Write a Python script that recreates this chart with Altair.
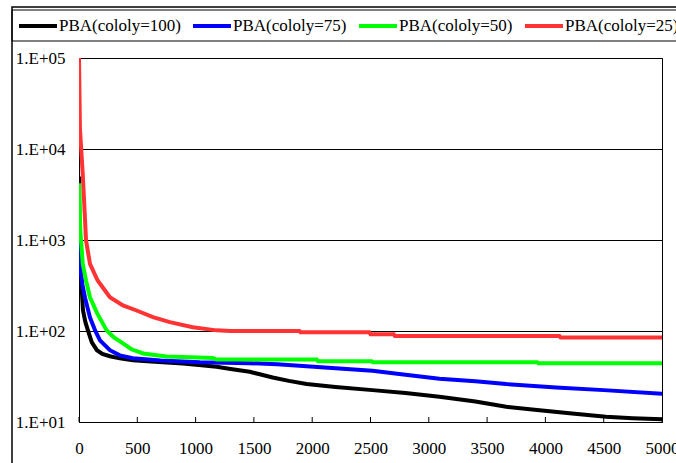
import altair as alt
import pandas as pd

# ---- data ----
series = ["PBA(cololy=100)", "PBA(cololy=75)", "PBA(cololy=50)", "PBA(cololy=25)"]
colors = ["#000000", "#0000ff", "#00ff00", "#ff3333"]

x_100 = [0, 5, 15, 34, 55, 77, 110, 154, 200, 265, 350, 462, 650, 890, 1050, 1180,
         1300, 1464, 1550, 1661, 1800, 1952, 2200, 2517, 2800, 3091, 3400, 3664,
         3950, 4229, 4520, 4750, 5000]
y_100 = [5000, 900, 450, 169, 125, 101, 75, 61.5, 56, 52.8, 50, 47.7, 46, 44, 42, 40.4,
         38.3, 35.6, 33.5, 30.8, 28.3, 26.1, 24.3, 22.4, 20.8, 18.9, 16.8, 14.7,
         13.5, 12.4, 11.4, 11.0, 10.7]

x_75 = [0, 5, 15, 30, 51, 94, 140, 180, 265, 350, 462, 700, 1036, 1464, 1700, 1952,
        2200, 2517, 2800, 3091, 3400, 3664, 4092, 4500, 5000]
y_75 = [1200, 700, 450, 320, 234, 141, 100, 79, 61.5, 54, 50.2, 47.5, 45.4, 44.3, 43,
        41.1, 39, 36.5, 33, 29.8, 28, 26.1, 24, 22.4, 20.5]

x_50 = [0, 5, 12, 20, 32, 60, 94, 157, 237, 300, 380, 450, 550, 750, 1150, 1180,
        2040, 2050, 2510, 2520, 3930, 3940, 5000]
y_50 = [4200, 2500, 1200, 900, 547, 359, 235, 155, 101.6, 85, 72.7, 63, 56.6, 52.5,
        50.5, 48.6, 48.6, 46.6, 46.6, 45.4, 45.4, 44.3, 44.3]

x_25 = [0, 8, 15, 32, 45, 60, 94, 160, 265, 377, 494, 634, 779, 976, 1179, 1300,
        1890, 1900, 2490, 2500, 2700, 2710, 4120, 4130, 5000]
y_25 = [100000, 17000, 12000, 5300, 2500, 1000, 547, 359, 235, 191, 168, 142, 125,
        110, 101.6, 100, 100, 97, 97, 92, 92, 88, 88, 85, 85]

x_ticks = [0, 500, 1000, 1500, 2000, 2500, 3000, 3500, 4000, 4500, 5000]
y_ticks = [10, 100, 1000, 10000, 100000]

# ---- table ----
rows = []
for name, xs, ys in zip(series, [x_100, x_75, x_50, x_25], [y_100, y_75, y_50, y_25]):
    for xv, yv in zip(xs, ys):
        rows.append({"series": name, "x": xv, "y": yv})
df = pd.DataFrame(rows)
tick_df = pd.DataFrame({"t": x_ticks})

FONT = "Times New Roman, Liberation Serif, serif"

xscale = alt.Scale(domain=[0, 5000], nice=False, zero=False)
yscale = alt.Scale(type="log", domain=[10, 100000], nice=False)

legend = alt.Legend(
    title=None, orient="none", legendX=-62, legendY=-53,
    direction="horizontal", columns=4,
    symbolType="stroke", symbolSize=1444, symbolStrokeWidth=4,
    labelFont=FONT, labelFontSize=17, labelColor="black", labelLimit=300,
    labelOffset=0, columnPadding=4, padding=0,
)
color = alt.Color("series:N", scale=alt.Scale(domain=series, range=colors), legend=legend)

xaxis = alt.Axis(values=x_ticks, title=None, grid=False, ticks=False, labelFont=FONT,
                 labelFontSize=17, labelColor="black", labelPadding=18, labelOverlap=False,
                 labelFlush=False, domainColor="black", domainWidth=1, format="d")
yaxis = alt.Axis(values=y_ticks, title=None, grid=True, gridColor="black", gridWidth=1,
                 ticks=False, labelFont=FONT, labelFontSize=17, labelColor="black",
                 labelPadding=14, labelBaseline="middle", domainColor="black",
                 labelExpr="'1.E+0' + round(log(datum.value) / LN10)")

base = alt.Chart(df)
layers = []
for name in series:
    layers.append(
        base.transform_filter(alt.datum.series == name)
        .mark_line(strokeWidth=4, clip=True, strokeJoin="miter")
        .encode(
            x=alt.X("x:Q", scale=xscale, axis=xaxis),
            y=alt.Y("y:Q", scale=yscale, axis=yaxis),
            color=color,
        )
    )

ticks = alt.Chart(tick_df).mark_rule(color="black", strokeWidth=1).encode(
    x=alt.X("t:Q", scale=xscale, axis=xaxis),
    y=alt.value(359), y2=alt.value(364),
)

one = alt.Data(values=[{"a": 1}])
frame = alt.Chart(one).mark_rect(
    fillOpacity=0, stroke="black", strokeWidth=1.5
).encode(x=alt.value(-67), x2=alt.value(700), y=alt.value(-51), y2=alt.value(600))
legend_box = alt.Chart(one).mark_rect(
    fillOpacity=0, stroke="black", strokeWidth=1
).encode(x=alt.value(-67), x2=alt.value(700), y=alt.value(-48), y2=alt.value(-17))

chart = alt.layer(frame, legend_box, *layers, ticks).properties(
    width=583, height=364,
    autosize=alt.AutoSizeParams(type="none"),
    padding={"left": 79, "top": 58, "right": 14, "bottom": 41},
    background="white",
).configure_view(stroke="black", strokeWidth=1)

chart.save("out.html", embed_options={"renderer": "svg", "actions": False})
